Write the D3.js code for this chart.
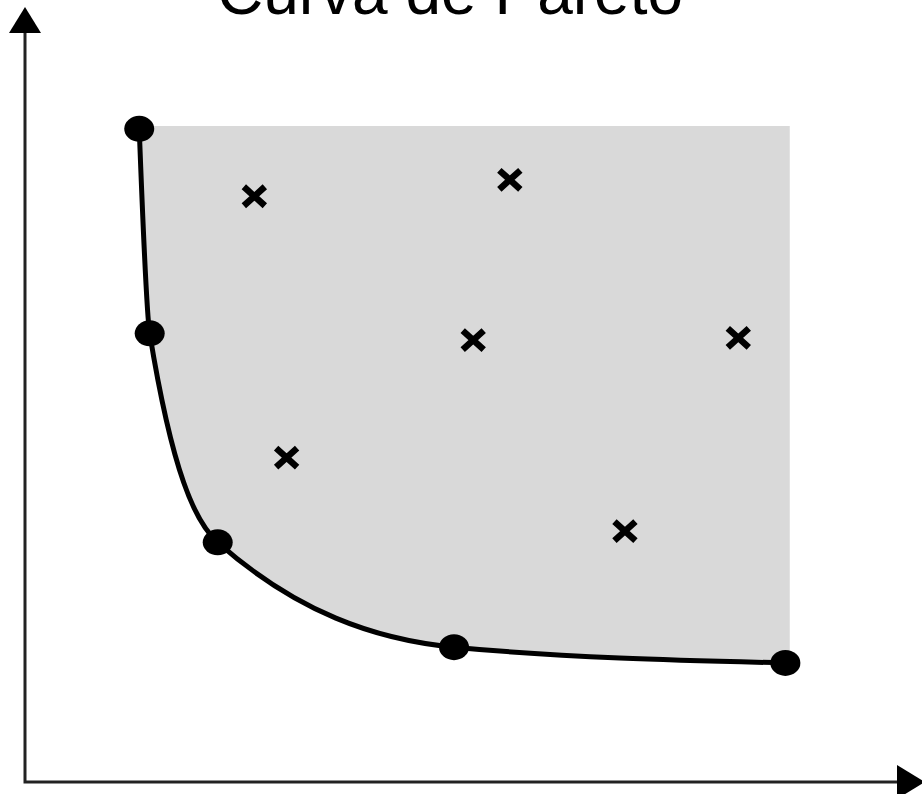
<!DOCTYPE html>
<html>
<head>
<meta charset="utf-8">
<script src="https://cdn.jsdelivr.net/npm/d3@7"></script>
<style>
  body { margin: 0; background: #fff; }
  svg { display: block; }
</style>
</head>
<body>
<div id="chart-area"></div>
<script>
// Pareto frontier points (non-dominated)
const frontX = [1.31, 1.43, 2.21, 4.92, 8.72];
const frontY = [8.72, 5.99, 3.20, 1.80, 1.59];

// dominated solutions
const crossX = [2.63, 5.56, 5.14, 8.18, 3.00, 6.88];
const crossY = [7.82, 8.04, 5.90, 5.93, 4.33, 3.35];

// extent of the shaded feasible region
const regionTop = 8.76;
const regionRight = 8.77;

const W = 922, H = 794;

const svg = d3.select("#chart-area")
    .append("svg")
    .attr("width", W)
    .attr("height", H);

const x = d3.scaleLinear().domain([0, 10]).range([25, 897]);
const y = d3.scaleLinear().domain([0, 10]).range([782, 33]);

const front = frontX.map((d, i) => ({ x: d, y: frontY[i] }));
const crosses = crossX.map((d, i) => ({ x: d, y: crossY[i] }));

const curveLine = d3.line()
    .x(d => x(d.x))
    .y(d => y(d.y))
    .curve(d3.curveMonotoneX);

// shaded region: frontier curve then up the right side and back along the top
const regionPath = curveLine(front) +
    `L${x(regionRight)},${y(frontY[frontY.length - 1]) - 4}` +
    `L${x(regionRight)},${y(regionTop)}` +
    `L${x(frontX[0])},${y(regionTop)}Z`;

svg.append("path")
    .attr("d", regionPath)
    .attr("fill", "#d9d9d9");

svg.append("path")
    .attr("d", curveLine(front))
    .attr("fill", "none")
    .attr("stroke", "#000")
    .attr("stroke-width", 5);

svg.selectAll("ellipse.front")
    .data(front)
    .enter()
    .append("ellipse")
    .attr("class", "front")
    .attr("cx", d => x(d.x))
    .attr("cy", d => y(d.y))
    .attr("rx", 15)
    .attr("ry", 13)
    .attr("fill", "#000");

const cross = svg.selectAll("g.cross")
    .data(crosses)
    .enter()
    .append("g")
    .attr("class", "cross")
    .attr("transform", d => `translate(${x(d.x)}, ${y(d.y)})`);

cross.append("path")
    .attr("d", "M-10.5,-9.5L10.5,9.5M-10.5,9.5L10.5,-9.5")
    .attr("stroke", "#000")
    .attr("stroke-width", 6.5)
    .attr("fill", "none");

// axes with arrow heads
const x0 = x.range()[0], x1 = x.range()[1];
const y0 = y.range()[0], y1 = y.range()[1];

svg.append("path")
    .attr("d", `M${x0},${y1}L${x0},${y0}L${x1},${y0}`)
    .attr("fill", "none")
    .attr("stroke", "#222")
    .attr("stroke-width", 3);

svg.append("path")
    .attr("d", `M${x0 - 16},${y1}L${x0 + 16},${y1}L${x0},${y1 - 26}Z`)
    .attr("fill", "#000");

svg.append("path")
    .attr("d", `M${x1},${y0 - 17}L${x1},${y0 + 17}L${x1 + 28},${y0}Z`)
    .attr("fill", "#000");

// title sits partly above the top edge, as in the original image
svg.append("text")
    .attr("x", 450)
    .attr("y", 14)
    .attr("text-anchor", "middle")
    .attr("font-family", "Liberation Sans, Arial, sans-serif")
    .attr("font-size", "64px")
    .text("Curva de Pareto");
</script>
</body>
</html>
